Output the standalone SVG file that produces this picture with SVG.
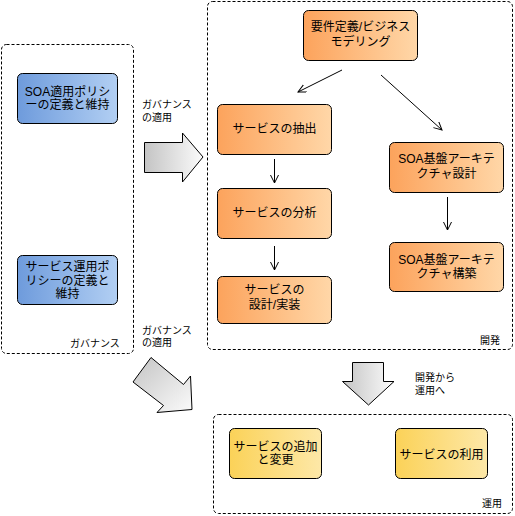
<svg xmlns="http://www.w3.org/2000/svg" width="515" height="516" viewBox="0 0 515 516">
<defs>
<linearGradient id="gBlue" x1="0" y1="0" x2="1" y2="0"><stop offset="0" stop-color="#6e9bdc"/><stop offset="1" stop-color="#b2cff3"/></linearGradient>
<linearGradient id="gOrange" x1="0" y1="0" x2="1" y2="0"><stop offset="0" stop-color="#fca35c"/><stop offset="1" stop-color="#ffd7a8"/></linearGradient>
<linearGradient id="gYellow" x1="0" y1="0" x2="1" y2="0"><stop offset="0" stop-color="#fbd258"/><stop offset="1" stop-color="#fde8a8"/></linearGradient>
<linearGradient id="gGray" x1="0" y1="0" x2="1" y2="0"><stop offset="0" stop-color="#c4c4c4"/><stop offset="1" stop-color="#fbfbfb"/></linearGradient>
<linearGradient id="gGrayD" x1="0" y1="0" x2="1" y2="1"><stop offset="0" stop-color="#c4c4c4"/><stop offset="1" stop-color="#fbfbfb"/></linearGradient>
<marker id="arr" markerWidth="10" markerHeight="10" refX="8" refY="4" orient="auto" markerUnits="userSpaceOnUse"><path d="M0,0 L8,4 L0,8" fill="none" stroke="#000" stroke-width="1"/></marker>
</defs>
<style>
.cont{fill:none;stroke:#000;stroke-width:1;stroke-dasharray:3,2}
.node rect{stroke:#000;stroke-width:1}
.blue rect{fill:url(#gBlue)}
.orange rect{fill:url(#gOrange)}
.yellow rect{fill:url(#gYellow)}
text{font-family:"Liberation Sans","Noto Sans CJK JP",sans-serif;fill:#000}
.t{font-size:12px;text-anchor:middle}
.s{font-size:10px}
.conn line{stroke:#000;stroke-width:1;marker-end:url(#arr)}
.big{stroke:#000;stroke-width:1}
</style>
<rect width="515" height="516" fill="#fff"/>
<g id="governance">
<rect class="cont" x="1.5" y="44.5" width="132" height="309" rx="5"/>
<text class="s" x="70" y="347">ガバナンス</text>
</g>
<g id="development">
<rect class="cont" x="207.5" y="1.5" width="305" height="348" rx="5"/>
<text class="s" x="480" y="344">開発</text>
</g>
<g id="operation">
<rect class="cont" x="213.5" y="414.5" width="299" height="99" rx="5"/>
<text class="s" x="482" y="507">運用</text>
</g>
<g id="n-soa-policy" class="node blue">
<rect x="17.5" y="73.5" width="100" height="50" rx="5"/>
<text class="t" x="67.5" y="96">SOA適用ポリシ</text>
<text class="t" x="67.5" y="109">ーの定義と維持</text>
</g>
<g id="n-service-policy" class="node blue">
<rect x="17.5" y="255.5" width="100" height="49" rx="5"/>
<text class="t" x="67.5" y="271">サービス運用ポ</text>
<text class="t" x="67.5" y="284.5">リシーの定義と</text>
<text class="t" x="67.5" y="298">維持</text>
</g>
<g id="n-requirements" class="node orange">
<rect x="303.5" y="10.5" width="114" height="50" rx="5"/>
<text class="t" x="360.5" y="31">要件定義/ビジネス</text>
<text class="t" x="360.5" y="46">モデリング</text>
</g>
<g id="n-extract" class="node orange">
<rect x="217.5" y="104.5" width="114" height="50" rx="5"/>
<text class="t" x="274.5" y="133">サービスの抽出</text>
</g>
<g id="n-analysis" class="node orange">
<rect x="217.5" y="188.5" width="114" height="50" rx="5"/>
<text class="t" x="274.5" y="217">サービスの分析</text>
</g>
<g id="n-design" class="node orange">
<rect x="217.5" y="276.5" width="114" height="47" rx="5"/>
<text class="t" x="274.5" y="293.5">サービスの</text>
<text class="t" x="274.5" y="308.5">設計/実装</text>
</g>
<g id="n-arch-design" class="node orange">
<rect x="389.5" y="142.5" width="114" height="50" rx="5"/>
<text class="t" x="446.5" y="163">SOA基盤アーキテ</text>
<text class="t" x="446.5" y="178">クチャ設計</text>
</g>
<g id="n-arch-build" class="node orange">
<rect x="389.5" y="242.5" width="114" height="49" rx="5"/>
<text class="t" x="446.5" y="263.5">SOA基盤アーキテ</text>
<text class="t" x="446.5" y="278">クチャ構築</text>
</g>
<g id="n-add-change" class="node yellow">
<rect x="229.5" y="428.5" width="92" height="50" rx="5"/>
<text class="t" x="275.5" y="450.5">サービスの追加</text>
<text class="t" x="275.5" y="464">と変更</text>
</g>
<g id="n-use" class="node yellow">
<rect x="395.5" y="428.5" width="92" height="50" rx="5"/>
<text class="t" x="441.5" y="458.5">サービスの利用</text>
</g>
<g id="connectors" class="conn">
<line x1="342" y1="70" x2="298" y2="92"/>
<line x1="381" y1="75" x2="442" y2="130"/>
<line x1="274.5" y1="159" x2="274.5" y2="183"/>
<line x1="274.5" y1="246" x2="274.5" y2="270"/>
<line x1="447.5" y1="197" x2="447.5" y2="230"/>
<polygon class="big" fill="url(#gGray)" points="144.5,142.5 182.5,142.5 182.5,133 203,157 182.5,182 182.5,172.5 144.5,172.5"/>
<polygon class="big" fill="url(#gGrayD)" points="133,382 151,357.5 183.5,384.5 190.5,376 192,409.5 157,412.5 163.5,405.5"/>
<polygon class="big" fill="url(#gGray)" points="352.5,362.5 383.5,362.5 383.5,381.5 394,381.5 368.5,405 342.5,381.5 352.5,381.5"/>
<text class="s" x="142" y="108">ガバナンス</text>
<text class="s" x="142" y="121">の適用</text>
<text class="s" x="142" y="334">ガバナンス</text>
<text class="s" x="142" y="346">の適用</text>
<text class="s" x="415" y="381">開発から</text>
<text class="s" x="415" y="394">運用へ</text>
</g>
</svg>
